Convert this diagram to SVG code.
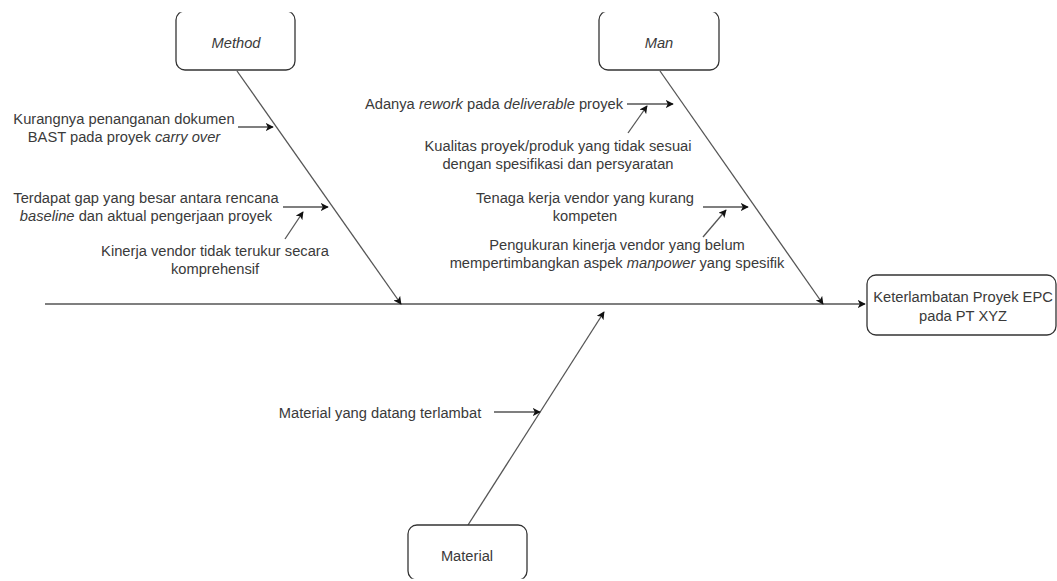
<svg xmlns="http://www.w3.org/2000/svg" width="1057" height="581" viewBox="0 0 1057 581">
<style>
text{font-family:"Liberation Sans",Arial,sans-serif;font-size:14.7px;fill:#3a3a3a;text-anchor:middle;dominant-baseline:central}
.i{font-style:italic}
.box{fill:#fff;stroke:#333;stroke-width:1.3}
.ln{stroke:#555;stroke-width:1.3;fill:none;marker-end:url(#ah)}
</style>
<defs>
<marker id="ah" viewBox="0 0 10 10" refX="9" refY="5" markerWidth="8" markerHeight="8" markerUnits="userSpaceOnUse" orient="auto">
<path d="M0,0 L10,5 L0,10 L2.5,5 Z" fill="#111"/>
</marker>
<clipPath id="clipTop"><rect x="0" y="12.3" width="1057" height="581"/></clipPath>
<clipPath id="clipBot"><rect x="0" y="0" width="1057" height="578.7"/></clipPath>
</defs>
<g id="connectors">
<line class="ln" x1="45" y1="304" x2="865" y2="304"/>
<line class="ln" x1="237" y1="71" x2="401" y2="304"/>
<line class="ln" x1="660" y1="71" x2="823" y2="304"/>
<line class="ln" x1="468" y1="525" x2="604" y2="312"/>
<line class="ln" x1="238" y1="127" x2="273" y2="127"/>
<line class="ln" x1="283" y1="207" x2="328" y2="207"/>
<line class="ln" x1="285" y1="239" x2="303" y2="212"/>
<line class="ln" x1="627" y1="104" x2="673" y2="104"/>
<line class="ln" x1="628" y1="133" x2="647" y2="106"/>
<line class="ln" x1="703" y1="207" x2="748" y2="207"/>
<line class="ln" x1="703" y1="237" x2="726" y2="210"/>
<line class="ln" x1="494" y1="412" x2="540" y2="412"/>
</g>
<g id="method">
<rect class="box" x="176" y="11" width="119" height="59" rx="9" clip-path="url(#clipTop)"/>
<text class="i" x="236" y="43">Method</text>
</g>
<g id="man">
<rect class="box" x="599" y="11" width="120" height="59" rx="9" clip-path="url(#clipTop)"/>
<text class="i" x="659" y="43">Man</text>
</g>
<g id="material">
<rect class="box" x="408" y="525" width="119" height="55" rx="9" clip-path="url(#clipBot)"/>
<text x="467" y="556">Material</text>
</g>
<g id="effect">
<rect class="box" x="867" y="275" width="189" height="60" rx="9"/>
<text x="963" y="297">Keterlambatan Proyek EPC</text>
<text x="963" y="316">pada PT XYZ</text>
</g>
<g id="cause-m1">
<text x="124" y="119">Kurangnya penanganan dokumen</text>
<text x="124" y="137">BAST pada proyek <tspan class="i">carry over</tspan></text>
</g>
<g id="cause-m2">
<text x="146" y="198">Terdapat gap yang besar antara rencana</text>
<text x="146" y="216"><tspan class="i">baseline</tspan> dan aktual pengerjaan proyek</text>
</g>
<g id="cause-m3">
<text x="215" y="251">Kinerja vendor tidak terukur secara</text>
<text x="215" y="269">komprehensif</text>
</g>
<g id="cause-n1">
<text x="494" y="104">Adanya <tspan class="i">rework</tspan> pada <tspan class="i">deliverable</tspan> proyek</text>
</g>
<g id="cause-n2">
<text x="558" y="146">Kualitas proyek/produk yang tidak sesuai</text>
<text x="558" y="164">dengan spesifikasi dan persyaratan</text>
</g>
<g id="cause-n3">
<text x="585" y="198">Tenaga kerja vendor yang kurang</text>
<text x="585" y="216">kompeten</text>
</g>
<g id="cause-n4">
<text x="617" y="245">Pengukuran kinerja vendor yang belum</text>
<text x="617" y="263">mempertimbangkan aspek <tspan class="i">manpower</tspan> yang spesifik</text>
</g>
<g id="cause-t1">
<text x="380" y="413">Material yang datang terlambat</text>
</g>
</svg>
